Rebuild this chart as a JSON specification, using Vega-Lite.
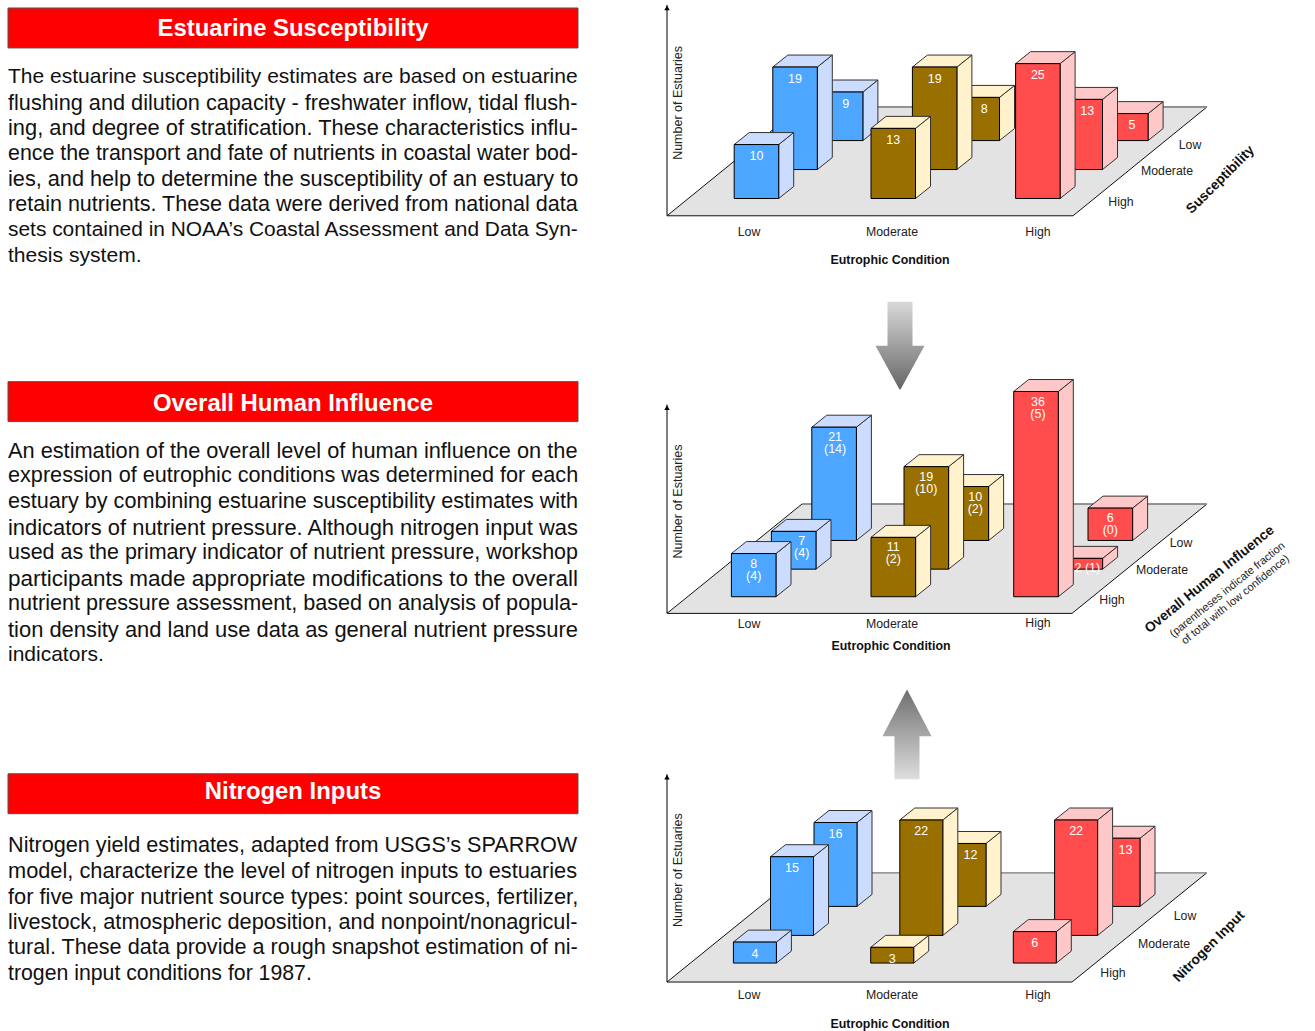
{"$schema":"https://vega.github.io/schema/vega-lite/v6.json","width":1315,"height":1031,"autosize":{"type":"fit","contains":"padding"},"padding":0,"background":"white","config":{"view":{"stroke":null}},
"params":[
{"name":"lay_slots","value":{"Susceptibility":{"Low":{"High":734.2,"Moderate":772.8,"Low":818.4},"Moderate":{"High":871,"Moderate":912.4,"Low":955},"High":{"High":1015.6,"Moderate":1058,"Low":1103.6}},"Influence":{"Low":{"High":731.4,"Moderate":771.4,"Low":811.8},"Moderate":{"High":871,"Moderate":904,"Low":944},"High":{"High":1013.7,"Moderate":1058,"Low":1088}},"Nitrogen":{"Low":{"High":733.4,"Moderate":770.5,"Low":814},"Moderate":{"High":870.7,"Moderate":899.8,"Low":943},"High":{"High":1013.3,"Moderate":1054.6,"Low":1097}}}},
{"name":"lay_base","value":{"Susceptibility":{"High":198.7,"Moderate":169.7,"Low":140.7},"Influence":{"High":597.3,"Moderate":569.7,"Low":541},"Nitrogen":{"High":964,"Moderate":936.3,"Low":907.3}}},
{"name":"lay_w","value":{"Susceptibility":44.5,"Influence":44.6,"Nitrogen":43}},
{"name":"lay_k","value":{"Susceptibility":5.4,"Influence":5.4,"Nitrogen":5.25}},
{"name":"lay_gap","value":{"Susceptibility":5.5,"Influence":4,"Nitrogen":5.5}},
{"name":"lay_shift","value":{"Susceptibility|Low|Low":5,"Susceptibility|Moderate|Low":7,"Susceptibility|High|Moderate":7,"Susceptibility|High|Low":6,"Influence|Low|Low":1,"Influence|Low|Moderate":8,"Influence|Moderate|Low":9,"Influence|High|Moderate":7,"Influence|High|High":2,"Nitrogen|Moderate|Low":6,"Nitrogen|High|Low":7}},
{"name":"lay_floor","value":{"Susceptibility":{"x":667,"y":216,"w":406,"sk":134,"d":109,"top":5},"Influence":{"x":667,"y":614,"w":405,"sk":135,"d":109.5,"top":405},"Nitrogen":{"x":667,"y":983,"w":405,"sk":135,"d":109.5,"top":775}}},
{"name":"lay_sec","value":{"Susceptibility":{"head":8,"headText":21.5,"body":77},"Influence":{"head":382,"headText":22.5,"body":451.3},"Nitrogen":{"head":774.5,"headText":18.5,"body":846.5}}},
{"name":"lay_fit","value":{"Susceptibility":[1.0,1.034,1.04,1.018,1.033,1.027,0.996,1.005],"Influence":[1.036,1.031,1.029,1.044,1.022,1.071,1.029,1.044,1.0],"Nitrogen":[1.031,1.038,1.04,1.034,1.029,1.013]}},
{"name":"lay_arrow","value":{"down":{"cx":900,"y0":302,"dir":1},"up":{"cx":907,"y0":780,"dir":-1}}},
{"name":"lay_annos","value":{"S.c.Low":[749,232,0],"S.c.Moderate":[892,232,0],"S.c.High":[1038,232,0],"S.l.Low":[1190,145,0],"S.l.Moderate":[1167,171,0],"S.l.High":[1121,202,0],"S.y":[677.5,103,270],"S.x":[890,260,0],"S.z":[1220.5,180,315],"I.c.Low":[749,625,0],"I.c.Moderate":[892,625,0],"I.c.High":[1038,624,0],"I.l.Low":[1181,544,0],"I.l.Moderate":[1162,571,0],"I.l.High":[1112,601,0],"I.y":[677.5,502,270],"I.x":[891,647,0],"I.z":[1209.5,580,321],"I.n1":[1227.5,590.5,321],"I.n2":[1235.5,600.5,321],"N.c.Low":[749,996,0],"N.c.Moderate":[892,996,0],"N.c.High":[1038,996,0],"N.l.Low":[1185,917,0],"N.l.Moderate":[1164,945,0],"N.l.High":[1113,974,0],"N.y":[677.5,871,270],"N.x":[890,1025,0],"N.z":[1209,947.5,315]}}
],
"datasets":{
"bars":[
{"panel":"Susceptibility","condition":"Low","level":"High","value":10,"label":"10"},
{"panel":"Susceptibility","condition":"Low","level":"Moderate","value":19,"label":"19"},
{"panel":"Susceptibility","condition":"Low","level":"Low","value":9,"label":"9"},
{"panel":"Susceptibility","condition":"Moderate","level":"High","value":13,"label":"13"},
{"panel":"Susceptibility","condition":"Moderate","level":"Moderate","value":19,"label":"19"},
{"panel":"Susceptibility","condition":"Moderate","level":"Low","value":8,"label":"8"},
{"panel":"Susceptibility","condition":"High","level":"High","value":25,"label":"25"},
{"panel":"Susceptibility","condition":"High","level":"Moderate","value":13,"label":"13"},
{"panel":"Susceptibility","condition":"High","level":"Low","value":5,"label":"5"},
{"panel":"Influence","condition":"Low","level":"High","value":8,"label":"8\n(4)"},
{"panel":"Influence","condition":"Low","level":"Moderate","value":7,"label":"7\n(4)"},
{"panel":"Influence","condition":"Low","level":"Low","value":21,"label":"21\n(14)"},
{"panel":"Influence","condition":"Moderate","level":"High","value":11,"label":"11\n(2)"},
{"panel":"Influence","condition":"Moderate","level":"Moderate","value":19,"label":"19\n(10)"},
{"panel":"Influence","condition":"Moderate","level":"Low","value":10,"label":"10\n(2)"},
{"panel":"Influence","condition":"High","level":"High","value":36,"label":"36\n(5)"},
{"panel":"Influence","condition":"High","level":"Moderate","value":2,"label":"2 (1)"},
{"panel":"Influence","condition":"High","level":"Low","value":6,"label":"6\n(0)"},
{"panel":"Nitrogen","condition":"Low","level":"High","value":4,"label":"4"},
{"panel":"Nitrogen","condition":"Low","level":"Moderate","value":15,"label":"15"},
{"panel":"Nitrogen","condition":"Low","level":"Low","value":16,"label":"16"},
{"panel":"Nitrogen","condition":"Moderate","level":"High","value":3,"label":"3"},
{"panel":"Nitrogen","condition":"Moderate","level":"Moderate","value":22,"label":"22"},
{"panel":"Nitrogen","condition":"Moderate","level":"Low","value":12,"label":"12"},
{"panel":"Nitrogen","condition":"High","level":"High","value":6,"label":"6"},
{"panel":"Nitrogen","condition":"High","level":"Moderate","value":22,"label":"22"},
{"panel":"Nitrogen","condition":"High","level":"Low","value":13,"label":"13"}],
"panels":[{"panel":"Susceptibility"},{"panel":"Influence"},{"panel":"Nitrogen"}],
"heads":[{"panel":"Susceptibility","text":"Estuarine Susceptibility"},{"panel":"Influence","text":"Overall Human Influence"},{"panel":"Nitrogen","text":"Nitrogen Inputs"}],
"body":[
{"panel":"Susceptibility","line":0,"text":"The estuarine susceptibility estimates are based on estuarine"},
{"panel":"Susceptibility","line":1,"text":"flushing and dilution capacity - freshwater inflow, tidal flush-"},
{"panel":"Susceptibility","line":2,"text":"ing, and degree of stratification. These characteristics influ-"},
{"panel":"Susceptibility","line":3,"text":"ence the transport and fate of nutrients in coastal water bod-"},
{"panel":"Susceptibility","line":4,"text":"ies, and help to determine the susceptibility of an estuary to"},
{"panel":"Susceptibility","line":5,"text":"retain nutrients. These data were derived from national data"},
{"panel":"Susceptibility","line":6,"text":"sets contained in NOAA’s Coastal Assessment and Data Syn-"},
{"panel":"Susceptibility","line":7,"text":"thesis system."},
{"panel":"Influence","line":0,"text":"An estimation of the overall level of human influence on the"},
{"panel":"Influence","line":1,"text":"expression of eutrophic conditions was determined for each"},
{"panel":"Influence","line":2,"text":"estuary by combining estuarine susceptibility estimates with"},
{"panel":"Influence","line":3,"text":"indicators of nutrient pressure. Although nitrogen input was"},
{"panel":"Influence","line":4,"text":"used as the primary indicator of nutrient pressure, workshop"},
{"panel":"Influence","line":5,"text":"participants made appropriate modifications to the overall"},
{"panel":"Influence","line":6,"text":"nutrient pressure assessment, based on analysis of popula-"},
{"panel":"Influence","line":7,"text":"tion density and land use data as general nutrient pressure"},
{"panel":"Influence","line":8,"text":"indicators."},
{"panel":"Nitrogen","line":0,"text":"Nitrogen yield estimates, adapted from USGS’s SPARROW"},
{"panel":"Nitrogen","line":1,"text":"model, characterize the level of nitrogen inputs to estuaries"},
{"panel":"Nitrogen","line":2,"text":"for five major nutrient source types: point sources, fertilizer,"},
{"panel":"Nitrogen","line":3,"text":"livestock, atmospheric deposition, and nonpoint/nonagricul-"},
{"panel":"Nitrogen","line":4,"text":"tural. These data provide a rough snapshot estimation of ni-"},
{"panel":"Nitrogen","line":5,"text":"trogen input conditions for 1987."}],
"annos":[
{"key":"S.c.Low","kind":"tick","text":"Low"},{"key":"S.c.Moderate","kind":"tick","text":"Moderate"},{"key":"S.c.High","kind":"tick","text":"High"},{"key":"S.l.Low","kind":"tick","text":"Low"},{"key":"S.l.Moderate","kind":"tick","text":"Moderate"},{"key":"S.l.High","kind":"tick","text":"High"},{"key":"S.y","kind":"ytitle","text":"Number of Estuaries"},{"key":"S.x","kind":"xtitle","text":"Eutrophic Condition"},{"key":"S.z","kind":"ztitle","text":"Susceptibility"},
{"key":"I.c.Low","kind":"tick","text":"Low"},{"key":"I.c.Moderate","kind":"tick","text":"Moderate"},{"key":"I.c.High","kind":"tick","text":"High"},{"key":"I.l.Low","kind":"tick","text":"Low"},{"key":"I.l.Moderate","kind":"tick","text":"Moderate"},{"key":"I.l.High","kind":"tick","text":"High"},{"key":"I.y","kind":"ytitle","text":"Number of Estuaries"},{"key":"I.x","kind":"xtitle","text":"Eutrophic Condition"},{"key":"I.z","kind":"ztitle","text":"Overall Human Influence"},{"key":"I.n1","kind":"note","text":"(parentheses indicate fraction"},{"key":"I.n2","kind":"note","text":"of total with low confidence)"},
{"key":"N.c.Low","kind":"tick","text":"Low"},{"key":"N.c.Moderate","kind":"tick","text":"Moderate"},{"key":"N.c.High","kind":"tick","text":"High"},{"key":"N.l.Low","kind":"tick","text":"Low"},{"key":"N.l.Moderate","kind":"tick","text":"Moderate"},{"key":"N.l.High","kind":"tick","text":"High"},{"key":"N.y","kind":"ytitle","text":"Number of Estuaries"},{"key":"N.x","kind":"xtitle","text":"Eutrophic Condition"},{"key":"N.z","kind":"ztitle","text":"Nitrogen Input"}],
"arrows":[
{"arrow":"down","along":0,"half":12.5},{"arrow":"down","along":44,"half":12.5},{"arrow":"down","along":44.01,"half":24.5},{"arrow":"down","along":88,"half":0.5},
{"arrow":"up","along":0,"half":12.5},{"arrow":"up","along":43,"half":12.5},{"arrow":"up","along":43.01,"half":24.5},{"arrow":"up","along":89,"half":0.5}]
},
"layer":[
{"data":{"name":"heads"},"transform":[{"calculate":"8","as":"xa"},{"calculate":"578","as":"xb"},{"calculate":"lay_sec[datum.panel].head","as":"ya"},{"calculate":"datum.ya+40","as":"yb"},{"calculate":"293","as":"xc"},{"calculate":"datum.ya+lay_sec[datum.panel].headText","as":"yc"}],
"layer":[
{"mark":{"type":"rect","fill":"#ff0000","stroke":"#555555","strokeWidth":1},"encoding":{"x":{"field":"xa","type":"quantitative","scale":{"domain":[0,1315],"nice":false,"zero":false},"axis":null},"x2":{"field":"xb"},"y":{"field":"ya","type":"quantitative","scale":{"domain":[0,1030],"reverse":true,"nice":false,"zero":false},"axis":null},"y2":{"field":"yb"}}},
{"mark":{"type":"text","font":"Liberation Sans","fontWeight":"bold","fontSize":23.9,"fill":"white","align":"center","baseline":"middle"},"encoding":{"x":{"field":"xc","type":"quantitative","scale":{"domain":[0,1315],"nice":false,"zero":false},"axis":null},"y":{"field":"yc","type":"quantitative","scale":{"domain":[0,1030],"reverse":true,"nice":false,"zero":false},"axis":null},"text":{"field":"text"}}}]},
{"data":{"name":"body"},"transform":[{"calculate":"8","as":"xa"},{"calculate":"lay_sec[datum.panel].body+datum.line*25.6","as":"ya"},{"calculate":"21*lay_fit[datum.panel][datum.line]","as":"fs"}],
"mark":{"type":"text","font":"Liberation Sans","fill":"#111111","align":"left","baseline":"middle"},"encoding":{"x":{"field":"xa","type":"quantitative","scale":{"domain":[0,1315],"nice":false,"zero":false},"axis":null},"y":{"field":"ya","type":"quantitative","scale":{"domain":[0,1030],"reverse":true,"nice":false,"zero":false},"axis":null},"size":{"field":"fs","type":"quantitative","scale":null},"text":{"field":"text"}}},
{"data":{"name":"panels"},"transform":[{"calculate":"lay_floor[datum.panel]","as":"f"},{"calculate":"[0,1]","as":"t"},{"flatten":["t"]},{"calculate":"datum.f.x+datum.t*datum.f.sk","as":"xa"},{"calculate":"datum.xa+datum.f.w","as":"xb"},{"calculate":"datum.f.y-datum.t*datum.f.d","as":"ya"},{"calculate":"datum.f.y-datum.f.d","as":"yback"},{"calculate":"datum.f.x","as":"xax"},{"calculate":"datum.f.y","as":"yax"},{"calculate":"datum.f.top","as":"ytop"},{"calculate":"datum.f.top+3","as":"ytri"}],
"layer":[
{"mark":{"type":"area","orient":"horizontal","fill":"#e3e3e3","stroke":"#111111","strokeWidth":1},"encoding":{"detail":{"field":"panel"},"x":{"field":"xa","type":"quantitative","scale":{"domain":[0,1315],"nice":false,"zero":false},"axis":null},"x2":{"field":"xb"},"y":{"field":"ya","type":"quantitative","scale":{"domain":[0,1030],"reverse":true,"nice":false,"zero":false},"axis":null}}},
{"transform":[{"filter":"datum.t==1"}],"mark":{"type":"rule","stroke":"#999999","strokeWidth":1.5},"encoding":{"x":{"field":"xa","type":"quantitative","scale":{"domain":[0,1315],"nice":false,"zero":false},"axis":null},"x2":{"field":"xb"},"y":{"field":"yback","type":"quantitative","scale":{"domain":[0,1030],"reverse":true,"nice":false,"zero":false},"axis":null}}},
{"transform":[{"filter":"datum.t==1"}],"mark":{"type":"rule","stroke":"#000000","strokeWidth":1},"encoding":{"x":{"field":"xax","type":"quantitative","scale":{"domain":[0,1315],"nice":false,"zero":false},"axis":null},"y":{"field":"yax","type":"quantitative","scale":{"domain":[0,1030],"reverse":true,"nice":false,"zero":false},"axis":null},"y2":{"field":"ytop"}}},
{"transform":[{"filter":"datum.t==1"}],"mark":{"type":"point","shape":"triangle-up","filled":true,"fill":"#000000","size":30,"opacity":1},"encoding":{"x":{"field":"xax","type":"quantitative","scale":{"domain":[0,1315],"nice":false,"zero":false},"axis":null},"y":{"field":"ytri","type":"quantitative","scale":{"domain":[0,1030],"reverse":true,"nice":false,"zero":false},"axis":null}}}]},
{"data":{"name":"arrows"},"transform":[{"calculate":"lay_arrow[datum.arrow]","as":"a"},{"calculate":"datum.a.cx-datum.half","as":"xa"},{"calculate":"datum.a.cx+datum.half","as":"xb"},{"calculate":"datum.a.y0+datum.a.dir*datum.along","as":"ya"}],
"layer":[
{"transform":[{"filter":"datum.arrow=='down'"}],"mark":{"type":"area","orient":"horizontal","color":{"gradient":"linear","x1":0,"y1":0,"x2":0,"y2":1,"stops":[{"offset":0,"color":"#d9d9d9"},{"offset":1,"color":"#666666"}]}},"encoding":{"x":{"field":"xa","type":"quantitative","scale":{"domain":[0,1315],"nice":false,"zero":false},"axis":null},"x2":{"field":"xb"},"y":{"field":"ya","type":"quantitative","scale":{"domain":[0,1030],"reverse":true,"nice":false,"zero":false},"axis":null}}},
{"transform":[{"filter":"datum.arrow=='up'"}],"mark":{"type":"area","orient":"horizontal","color":{"gradient":"linear","x1":0,"y1":0,"x2":0,"y2":1,"stops":[{"offset":0,"color":"#707070"},{"offset":1,"color":"#dedede"}]}},"encoding":{"x":{"field":"xa","type":"quantitative","scale":{"domain":[0,1315],"nice":false,"zero":false},"axis":null},"x2":{"field":"xb"},"y":{"field":"ya","type":"quantitative","scale":{"domain":[0,1030],"reverse":true,"nice":false,"zero":false},"axis":null}}}]},
{"data":{"name":"bars"},"transform":[
{"calculate":"lay_slots[datum.panel][datum.condition][datum.level]","as":"xl"},
{"calculate":"datum.xl+lay_w[datum.panel]","as":"xr"},
{"calculate":"lay_base[datum.panel][datum.level]","as":"yb"},
{"calculate":"datum.yb-lay_k[datum.panel]*datum.value-max(0,datum.value-25)","as":"yt"},
{"calculate":"datum.panel+'|'+datum.condition+'|'+datum.level","as":"id"},
{"calculate":"[0,1]","as":"t"},{"flatten":["t"]},
{"calculate":"datum.xr+datum.t*15","as":"sx"},
{"calculate":"datum.yt-datum.t*12","as":"syt"},
{"calculate":"datum.yb-datum.t*12","as":"syb"},
{"calculate":"datum.xl+datum.t*15","as":"tx1"},
{"calculate":"(datum.xl+datum.xr)/2+(lay_shift[datum.id]||0)","as":"lx"},
{"calculate":"datum.yt+lay_gap[datum.panel]","as":"ly"}],
"layer":[
{"transform":[{"filter":"datum.level=='Low'"}],"mark":{"type":"area","orient":"vertical","stroke":"#333333","strokeWidth":1},"encoding":{"detail":{"field":"id"},"color":{"field":"condition","type":"nominal","legend":null,"scale":{"domain":["Low","Moderate","High"],"range":["#ccdcff","#fff2cc","#ffc8c8"]}},"x":{"field":"sx","type":"quantitative","scale":{"domain":[0,1315],"nice":false,"zero":false},"axis":null},"y":{"field":"syt","type":"quantitative","scale":{"domain":[0,1030],"reverse":true,"nice":false,"zero":false},"axis":null},"y2":{"field":"syb"}}},
{"transform":[{"filter":"datum.level=='Low'"}],"mark":{"type":"area","orient":"horizontal","stroke":"#333333","strokeWidth":1},"encoding":{"detail":{"field":"id"},"color":{"field":"condition","type":"nominal","legend":null,"scale":{"domain":["Low","Moderate","High"],"range":["#ccdcff","#fff2cc","#ffc8c8"]}},"x":{"field":"tx1","type":"quantitative","scale":{"domain":[0,1315],"nice":false,"zero":false},"axis":null},"x2":{"field":"sx"},"y":{"field":"syt","type":"quantitative","scale":{"domain":[0,1030],"reverse":true,"nice":false,"zero":false},"axis":null}}},
{"transform":[{"filter":"datum.level=='Low'&&datum.t==0"}],"mark":{"type":"rect","stroke":"#000000","strokeWidth":1},"encoding":{"fill":{"field":"condition","type":"nominal","legend":null,"scale":{"domain":["Low","Moderate","High"],"range":["#4da6ff","#996f00","#ff4d4d"]}},"x":{"field":"xl","type":"quantitative","scale":{"domain":[0,1315],"nice":false,"zero":false},"axis":null},"x2":{"field":"xr"},"y":{"field":"yt","type":"quantitative","scale":{"domain":[0,1030],"reverse":true,"nice":false,"zero":false},"axis":null},"y2":{"field":"yb"}}},
{"transform":[{"filter":"datum.level=='Moderate'"}],"mark":{"type":"area","orient":"vertical","stroke":"#333333","strokeWidth":1},"encoding":{"detail":{"field":"id"},"color":{"field":"condition","type":"nominal","legend":null,"scale":{"domain":["Low","Moderate","High"],"range":["#ccdcff","#fff2cc","#ffc8c8"]}},"x":{"field":"sx","type":"quantitative","scale":{"domain":[0,1315],"nice":false,"zero":false},"axis":null},"y":{"field":"syt","type":"quantitative","scale":{"domain":[0,1030],"reverse":true,"nice":false,"zero":false},"axis":null},"y2":{"field":"syb"}}},
{"transform":[{"filter":"datum.level=='Moderate'"}],"mark":{"type":"area","orient":"horizontal","stroke":"#333333","strokeWidth":1},"encoding":{"detail":{"field":"id"},"color":{"field":"condition","type":"nominal","legend":null,"scale":{"domain":["Low","Moderate","High"],"range":["#ccdcff","#fff2cc","#ffc8c8"]}},"x":{"field":"tx1","type":"quantitative","scale":{"domain":[0,1315],"nice":false,"zero":false},"axis":null},"x2":{"field":"sx"},"y":{"field":"syt","type":"quantitative","scale":{"domain":[0,1030],"reverse":true,"nice":false,"zero":false},"axis":null}}},
{"transform":[{"filter":"datum.level=='Moderate'&&datum.t==0"}],"mark":{"type":"rect","stroke":"#000000","strokeWidth":1},"encoding":{"fill":{"field":"condition","type":"nominal","legend":null,"scale":{"domain":["Low","Moderate","High"],"range":["#4da6ff","#996f00","#ff4d4d"]}},"x":{"field":"xl","type":"quantitative","scale":{"domain":[0,1315],"nice":false,"zero":false},"axis":null},"x2":{"field":"xr"},"y":{"field":"yt","type":"quantitative","scale":{"domain":[0,1030],"reverse":true,"nice":false,"zero":false},"axis":null},"y2":{"field":"yb"}}},
{"transform":[{"filter":"datum.level=='High'"}],"mark":{"type":"area","orient":"vertical","stroke":"#333333","strokeWidth":1},"encoding":{"detail":{"field":"id"},"color":{"field":"condition","type":"nominal","legend":null,"scale":{"domain":["Low","Moderate","High"],"range":["#ccdcff","#fff2cc","#ffc8c8"]}},"x":{"field":"sx","type":"quantitative","scale":{"domain":[0,1315],"nice":false,"zero":false},"axis":null},"y":{"field":"syt","type":"quantitative","scale":{"domain":[0,1030],"reverse":true,"nice":false,"zero":false},"axis":null},"y2":{"field":"syb"}}},
{"transform":[{"filter":"datum.level=='High'"}],"mark":{"type":"area","orient":"horizontal","stroke":"#333333","strokeWidth":1},"encoding":{"detail":{"field":"id"},"color":{"field":"condition","type":"nominal","legend":null,"scale":{"domain":["Low","Moderate","High"],"range":["#ccdcff","#fff2cc","#ffc8c8"]}},"x":{"field":"tx1","type":"quantitative","scale":{"domain":[0,1315],"nice":false,"zero":false},"axis":null},"x2":{"field":"sx"},"y":{"field":"syt","type":"quantitative","scale":{"domain":[0,1030],"reverse":true,"nice":false,"zero":false},"axis":null}}},
{"transform":[{"filter":"datum.level=='High'&&datum.t==0"}],"mark":{"type":"rect","stroke":"#000000","strokeWidth":1},"encoding":{"fill":{"field":"condition","type":"nominal","legend":null,"scale":{"domain":["Low","Moderate","High"],"range":["#4da6ff","#996f00","#ff4d4d"]}},"x":{"field":"xl","type":"quantitative","scale":{"domain":[0,1315],"nice":false,"zero":false},"axis":null},"x2":{"field":"xr"},"y":{"field":"yt","type":"quantitative","scale":{"domain":[0,1030],"reverse":true,"nice":false,"zero":false},"axis":null},"y2":{"field":"yb"}}},
{"transform":[{"filter":"datum.t==0"}],"mark":{"type":"text","font":"Liberation Sans","fontSize":12.5,"fill":"white","align":"center","baseline":"top","lineBreak":"\n","lineHeight":12},"encoding":{"x":{"field":"lx","type":"quantitative","scale":{"domain":[0,1315],"nice":false,"zero":false},"axis":null},"y":{"field":"ly","type":"quantitative","scale":{"domain":[0,1030],"reverse":true,"nice":false,"zero":false},"axis":null},"text":{"field":"label"}}}]},
{"data":{"name":"annos"},"transform":[{"calculate":"lay_annos[datum.key][0]","as":"xa"},{"calculate":"lay_annos[datum.key][1]","as":"ya"},{"calculate":"lay_annos[datum.key][2]","as":"rot"}],
"layer":[
{"transform":[{"filter":"datum.kind=='tick'"}],"mark":{"type":"text","font":"Liberation Sans","fontSize":12.3,"fill":"#222222","align":"center","baseline":"middle"},"encoding":{"x":{"field":"xa","type":"quantitative","scale":{"domain":[0,1315],"nice":false,"zero":false},"axis":null},"y":{"field":"ya","type":"quantitative","scale":{"domain":[0,1030],"reverse":true,"nice":false,"zero":false},"axis":null},"text":{"field":"text"}}},
{"transform":[{"filter":"datum.kind=='ytitle'"}],"mark":{"type":"text","font":"Liberation Sans","fontSize":12.5,"fill":"#222222","align":"center","baseline":"middle"},"encoding":{"x":{"field":"xa","type":"quantitative","scale":{"domain":[0,1315],"nice":false,"zero":false},"axis":null},"y":{"field":"ya","type":"quantitative","scale":{"domain":[0,1030],"reverse":true,"nice":false,"zero":false},"axis":null},"text":{"field":"text"},"angle":{"field":"rot","type":"quantitative","scale":null}}},
{"transform":[{"filter":"datum.kind=='xtitle'"}],"mark":{"type":"text","font":"Liberation Sans","fontWeight":"bold","fontSize":12.4,"fill":"#111111","align":"center","baseline":"middle"},"encoding":{"x":{"field":"xa","type":"quantitative","scale":{"domain":[0,1315],"nice":false,"zero":false},"axis":null},"y":{"field":"ya","type":"quantitative","scale":{"domain":[0,1030],"reverse":true,"nice":false,"zero":false},"axis":null},"text":{"field":"text"}}},
{"transform":[{"filter":"datum.kind=='ztitle'"}],"mark":{"type":"text","font":"Liberation Sans","fontWeight":"bold","fontSize":13.8,"fill":"#111111","align":"center","baseline":"middle"},"encoding":{"x":{"field":"xa","type":"quantitative","scale":{"domain":[0,1315],"nice":false,"zero":false},"axis":null},"y":{"field":"ya","type":"quantitative","scale":{"domain":[0,1030],"reverse":true,"nice":false,"zero":false},"axis":null},"text":{"field":"text"},"angle":{"field":"rot","type":"quantitative","scale":null}}},
{"transform":[{"filter":"datum.kind=='note'"}],"mark":{"type":"text","font":"Liberation Sans","fontSize":11,"fill":"#222222","align":"center","baseline":"middle"},"encoding":{"x":{"field":"xa","type":"quantitative","scale":{"domain":[0,1315],"nice":false,"zero":false},"axis":null},"y":{"field":"ya","type":"quantitative","scale":{"domain":[0,1030],"reverse":true,"nice":false,"zero":false},"axis":null},"text":{"field":"text"},"angle":{"field":"rot","type":"quantitative","scale":null}}}]}
]}
